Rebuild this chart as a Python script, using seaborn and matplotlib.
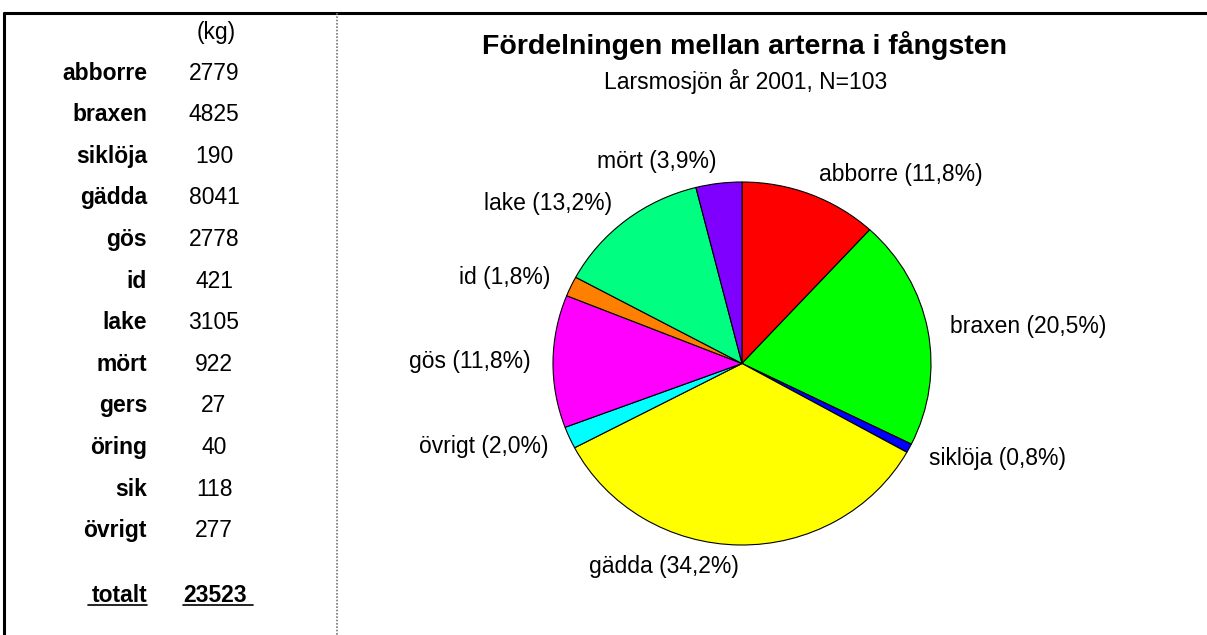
import matplotlib
matplotlib.use("Agg")
import matplotlib.pyplot as plt
import seaborn as sns

# tabellen till vänster (kg)
arter = ["abborre", "braxen", "siklöja", "gädda", "gös", "id", "lake",
         "mört", "gers", "öring", "sik", "övrigt"]
vikt_kg = [2779, 4825, 190, 8041, 2778, 421, 3105, 922, 27, 40, 118, 277]
totalt = 23523

# cirkeldiagrammet (gers, öring, sik ingår i övrigt)
pie_arter = ["abborre", "braxen", "siklöja", "gädda", "övrigt", "gös",
             "id", "lake", "mört"]
pie_vikt = [2779, 4825, 190, 8041, 27 + 40 + 118 + 277, 2778, 421, 3105, 922]
pie_farger = ["#ff0000", "#00ff00", "#0000ff", "#ffff00", "#00ffff",
              "#ff00ff", "#ff8000", "#00ff80", "#8000ff"]

titel = "Fördelningen mellan arterna i fångsten"
undertitel = "Larsmosjön år 2001, N=103"

sns.set_theme(style="white")
plt.rcParams["font.family"] = ["Liberation Sans", "DejaVu Sans"]
plt.rcParams["text.color"] = "black"

W, H = 1207, 635
fig = plt.figure(figsize=(W / 100, H / 100), dpi=100)

# overlay axes in pixel coordinates for table, titles and frame lines
ax_t = fig.add_axes([0, 0, 1, 1])
ax_t.set_xlim(0, W)
ax_t.set_ylim(H, 0)
ax_t.axis("off")

ax_t.plot([3, W], [13, 13], color="black", lw=2.2, solid_capstyle="butt")
ax_t.plot([4, 4], [12, H], color="black", lw=2.2, solid_capstyle="butt")
ax_t.plot([337, 337], [13, H], color="#777777", lw=1.2, ls=(0, (1, 1)))

fs = 16.5
ax_t.text(216, 32, "(kg)", ha="center", va="center", fontsize=fs)
y0, dy = 73, 41.6
for i, (namn, v) in enumerate(zip(arter, vikt_kg)):
    y = y0 + dy * i
    ax_t.text(147, y, namn, ha="right", va="center", fontsize=fs,
              fontweight="bold")
    ax_t.text(214, y, str(v), ha="center", va="center", fontsize=fs)

y_tot = 595
ax_t.text(147, y_tot, "totalt", ha="right", va="center", fontsize=fs,
          fontweight="bold")
ax_t.text(215, y_tot, str(totalt), ha="center", va="center", fontsize=fs,
          fontweight="bold")
ax_t.plot([88, 147], [605, 605], color="black", lw=1.2)
ax_t.plot([183, 253], [605, 605], color="black", lw=1.2)

ax_t.text(744, 46, titel, ha="center", va="center", fontsize=20.5,
          fontweight="bold")
ax_t.text(746, 81, undertitel, ha="center", va="center", fontsize=fs)

# pie
cx, cy, rx, ry = 742, 363.5, 189, 181.5
ax_p = fig.add_axes([(cx - 1.25 * rx) / W, (H - cy - 1.25 * ry) / H,
                     2.5 * rx / W, 2.5 * ry / H])
ax_p.patch.set_alpha(0)
total_pie = sum(pie_vikt)
etiketter = [f"{n} ({100 * v / total_pie:.1f}%)".replace(".", ",")
             for n, v in zip(pie_arter, pie_vikt)]
ax_p.pie(pie_vikt, labels=etiketter, colors=pie_farger, startangle=90,
         counterclock=False, labeldistance=1.12,
         wedgeprops=dict(edgecolor="black", linewidth=0.8),
         textprops=dict(fontsize=fs, color="black"))
ax_p.set_aspect("auto")
ax_p.set_xlim(-1.25, 1.25)
ax_p.set_ylim(-1.25, 1.25)

fig.savefig("out.png", dpi=100)
